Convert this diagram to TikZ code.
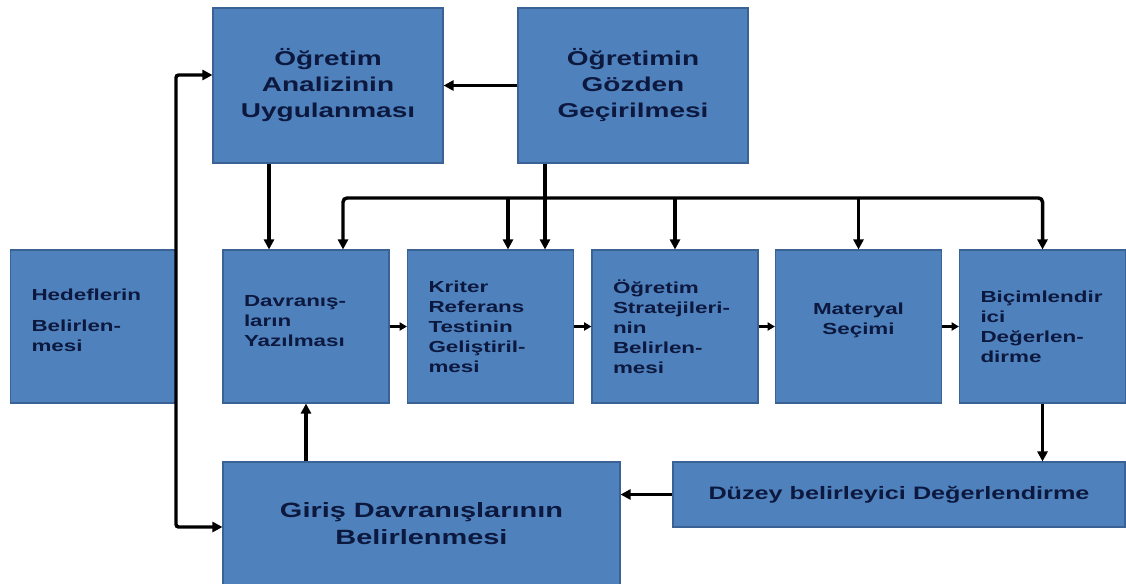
\documentclass[tikz,border=0pt]{standalone}
\usepackage{fontspec}
\newfontfamily\bx[FakeStretch=1.4]{Liberation Sans}
\usetikzlibrary{arrows.meta}
\definecolor{boxfill}{RGB}{79,129,189}
\definecolor{boxedge}{RGB}{58,98,148}
\definecolor{txt}{RGB}{12,24,62}
\tikzset{
  box/.style={draw=boxedge, fill=boxfill, line width=0.8pt, inner sep=0pt, text=txt},
  rowbox/.style={box, minimum width=124.5pt, minimum height=114.75pt, text width=93pt,
    inner xsep=15.75pt, align=left, font=\bx\bfseries\fontsize{12}{15}\selectfont},
  topbox/.style={box, minimum width=172.5pt, minimum height=116.25pt, align=center,
    font=\bx\bfseries\fontsize{15}{19.5}\selectfont},
  conn/.style={line width=2.6pt, draw=black},
  tip/.tip={Triangle[length=7.5pt,width=7.5pt]},
  stip/.tip={Triangle[length=5.5pt,width=6pt]},
  arr/.style={conn, -tip},
  sarr/.style={line width=2pt, draw=black, -stip},
}
\begin{document}
\begin{tikzpicture}[x=0.75pt,y=-0.75pt]
\fill[white] (0,0) rectangle (1126,583);
\useasboundingbox (0,0) rectangle (1126,583);

% top row
\node[topbox] (ana) at (328,85.5) {Öğretim\\Analizinin\\Uygulanması};
\node[topbox] (goz) at (633,85.5) {Öğretimin\\Gözden\\Geçirilmesi};

% middle row
\node[rowbox] (hed) at (93.5,326.5) {Hedeflerin\\[8pt]Belirlen-\\mesi\\[-6pt]\mbox{}};
\node[rowbox] (dav) at (306,326.5) {Davranış-\\ların\\Yazılması\\[-6pt]\mbox{}};
\node[rowbox] (kri) at (490.5,326.5) {Kriter\\Referans\\Testinin\\Geliştiril-\\mesi};
\node[rowbox] (str) at (675,326.5) {Öğretim\\Stratejileri-\\nin\\Belirlen-\\mesi};
\node[rowbox, align=center] (mat) at (858.5,326.5) {Materyal\\Seçimi\\[-4pt]\mbox{}};
\node[rowbox] (bic) at (1042.5,326.5) {\mbox{}\\[-6pt]Biçimlendir\\ici\\Değerlen-\\dirme};

% bottom row
\node[box, minimum width=297.75pt, minimum height=92.25pt, align=center,
  font=\bx\bfseries\fontsize{15.5}{20}\selectfont] (gir) at (421.5,523.5)
  {Giriş Davranışlarının\\Belirlenmesi};
\node[box, minimum width=339pt, minimum height=48.75pt,
  font=\bx\bfseries\fontsize{13.5}{16}\selectfont] (duz) at (899,494.5)
  {Düzey belirleyici Değerlendirme};

% helper coordinates
\coordinate (a1) at (269,0);
\coordinate (b1) at (343,198);
\coordinate (b2) at (508,198);
\coordinate (g1) at (545,0);
\coordinate (t1) at (176,75);
\coordinate (t2) at (176,527);

% connectors
\draw[arr] (goz.west) -- (ana.east);
\draw[arr] (ana.south -| a1) -- (dav.north -| a1);
\draw[conn, tip-tip, rounded corners=3pt] (dav.north -| b1) -- (b1) -- (bic.north |- b1) -- (bic.north);
\draw[arr] (b2) -- (kri.north -| b2);
\draw[arr] (str.north |- b1) -- (str.north);
\draw[arr] (mat.north |- b1) -- (mat.north);
\draw[arr] (goz.south -| g1) -- (kri.north -| g1);

\draw[sarr] (dav.east) -- (kri.west);
\draw[sarr] (kri.east) -- (str.west);
\draw[sarr] (str.east) -- (mat.west);
\draw[sarr] (mat.east) -- (bic.west);

\draw[arr] (bic.south) -- (bic.south |- duz.north);
\draw[arr] (duz.west) -- (duz.west -| gir.east);
\draw[arr] (gir.north -| dav.south) -- (dav.south);
\draw[conn, tip-tip, rounded corners=2pt] (t1 -| ana.west) -- (t1) -- (t2) -- (t2 -| gir.west);
\end{tikzpicture}
\end{document}
